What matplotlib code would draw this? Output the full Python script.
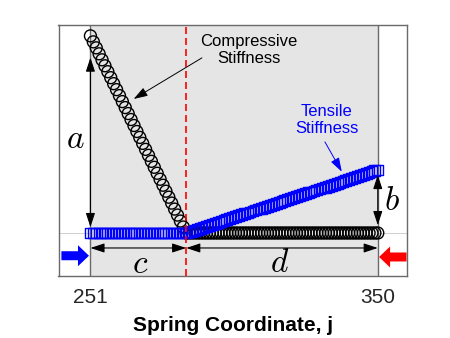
import matplotlib
matplotlib.use("Agg")
import matplotlib.pyplot as plt
import numpy as np

plt.rcParams['font.family'] = ['Liberation Sans', 'DejaVu Sans']
plt.rcParams['mathtext.fontset'] = 'cm'

# ---------------- data ----------------
j_start, j_mid, j_end = 251, 284, 350
spring_j = list(range(251, 351))

compressive = [4.000, 3.909, 3.818, 3.727, 3.636, 3.545, 3.455, 3.364, 3.273,
               3.182, 3.091, 3.000, 2.909, 2.818, 2.727, 2.636, 2.545, 2.455,
               2.364, 2.273, 2.182, 2.091, 2.000, 1.909, 1.818, 1.727, 1.636,
               1.545, 1.455, 1.364, 1.273, 1.182, 1.091, 1.000,
               1.00, 1.00, 1.00, 1.00, 1.00, 1.00, 1.00, 1.00, 1.00, 1.00, 1.00,
               1.00, 1.00, 1.00, 1.00, 1.00, 1.00, 1.00, 1.00, 1.00, 1.00, 1.00,
               1.00, 1.00, 1.00, 1.00, 1.00, 1.00, 1.00, 1.00, 1.00, 1.00, 1.00,
               1.00, 1.00, 1.00, 1.00, 1.00, 1.00, 1.00, 1.00, 1.00, 1.00, 1.00,
               1.00, 1.00, 1.00, 1.00, 1.00, 1.00, 1.00, 1.00, 1.00, 1.00, 1.00,
               1.00, 1.00, 1.00, 1.00, 1.00, 1.00, 1.00, 1.00, 1.00, 1.00, 1.00]

tensile = [1.00, 1.00, 1.00, 1.00, 1.00, 1.00, 1.00, 1.00, 1.00, 1.00, 1.00,
           1.00, 1.00, 1.00, 1.00, 1.00, 1.00, 1.00, 1.00, 1.00, 1.00, 1.00,
           1.00, 1.00, 1.00, 1.00, 1.00, 1.00, 1.00, 1.00, 1.00, 1.00, 1.00,
           1.00,
           1.015, 1.029, 1.044, 1.058, 1.073, 1.087, 1.102, 1.116, 1.131, 1.145,
           1.160, 1.175, 1.189, 1.204, 1.218, 1.233, 1.247, 1.262, 1.276, 1.291,
           1.305, 1.320, 1.335, 1.349, 1.364, 1.378, 1.393, 1.407, 1.422, 1.436,
           1.451, 1.465, 1.480, 1.495, 1.509, 1.524, 1.538, 1.553, 1.567, 1.582,
           1.596, 1.611, 1.625, 1.640, 1.655, 1.669, 1.684, 1.698, 1.713, 1.727,
           1.742, 1.756, 1.771, 1.785, 1.800, 1.815, 1.829, 1.844, 1.858, 1.873,
           1.887, 1.902, 1.916, 1.931, 1.945, 1.960]

tick_values = [251, 350]
tick_labels = ['251', '350']
x_label = 'Spring Coordinate, j'

# ---------------- figure ----------------
fig = plt.figure(figsize=(4.5, 3.38), dpi=100)
ax = fig.add_axes([0.130, 0.1843, 0.774, 0.742])
ax.set_xlim(240, 360)
ax.set_ylim(0.35, 4.167)

frame_col = '#6a6a6a'
for s in ax.spines.values():
    s.set_color(frame_col)
    s.set_linewidth(1.0)

# shaded region
ax.axvspan(j_start, j_end, facecolor='#e5e5e5', edgecolor='none', zorder=0.2)
ax.axvline(j_start, color=frame_col, lw=1.0, zorder=0.3)
ax.axvline(j_end, color=frame_col, lw=1.0, zorder=0.3)
ax.axhline(1.0, color='#d0d0d0', lw=0.7, zorder=0.1)

# series
ax.scatter(spring_j, compressive, marker='o', s=8.6 ** 2,
           facecolors='none', edgecolors='black', linewidths=1.0, zorder=3)
ax.scatter(spring_j, tensile, marker='s', s=7.8 ** 2,
           facecolors='none', edgecolors='blue', linewidths=1.0, zorder=4)

# red dashed divider
ax.axvline(j_mid, color='red', lw=1.2, dashes=(4.2, 2.4), zorder=6)

# ticks
ax.set_xticks(tick_values)
ax.set_xticklabels(tick_labels, fontsize=15, color='#262626')
ax.set_yticks([])
ax.tick_params(axis='x', length=0, pad=9)
ax.set_xlabel(x_label, fontsize=15, fontweight='bold', labelpad=6)

# dimension arrows
dim_style = '<|-|>,head_length=0.85,head_width=0.28'
def dim(p0, p1):
    ax.annotate('', xy=p1, xytext=p0,
                arrowprops=dict(arrowstyle=dim_style, color='black', lw=0.8,
                                shrinkA=0, shrinkB=0), zorder=7)

dim((j_start, 1.09), (j_start, 3.67))      # a
dim((j_start, 0.772), (j_mid, 0.772))      # c
dim((j_mid, 0.772), (j_end, 0.772))        # d
dim((j_end, 1.12), (j_end, 1.883))         # b

lab_kw = dict(fontsize=24, ha='center', va='center', zorder=8)
ax.text(245.9, 2.416, r'$a$', **lab_kw)
ax.text(268.0, 0.513, r'$c$', **lab_kw)
ax.text(316.3, 0.543, r'$d$', **lab_kw)
ax.text(354.8, 1.487, r'$b$', **lab_kw)

# callouts
ax.annotate('', xy=(265.9, 3.04), xytext=(289.4, 3.665),
            arrowprops=dict(arrowstyle='-|>,head_length=0.85,head_width=0.28',
                            color='black', lw=0.7, shrinkA=0, shrinkB=0))
ax.text(305.6, 3.787, 'Compressive\nStiffness', fontsize=12, ha='center',
        va='center', linespacing=1.15)
ax.annotate('', xy=(337.6, 1.933), xytext=(331.8, 2.386),
            arrowprops=dict(arrowstyle='-|>,head_length=0.85,head_width=0.28',
                            color='blue', lw=0.7, shrinkA=0, shrinkB=0))
ax.text(332.5, 2.72, 'Tensile\nStiffness', fontsize=12, ha='center',
        va='center', color='blue', linespacing=1.15)

# load arrows
fat = 'simple,head_length=0.396,head_width=0.756,tail_width=0.324'
ax.annotate('', xy=(250.5, 0.654), xytext=(241.0, 0.654),
            arrowprops=dict(arrowstyle=fat, color='blue', lw=0,
                            shrinkA=0, shrinkB=0, mutation_scale=20))
ax.annotate('', xy=(350.45, 0.635), xytext=(359.9, 0.635),
            arrowprops=dict(arrowstyle=fat, color='red', lw=0,
                            shrinkA=0, shrinkB=0, mutation_scale=20))

fig.savefig('out.png', dpi=100)
